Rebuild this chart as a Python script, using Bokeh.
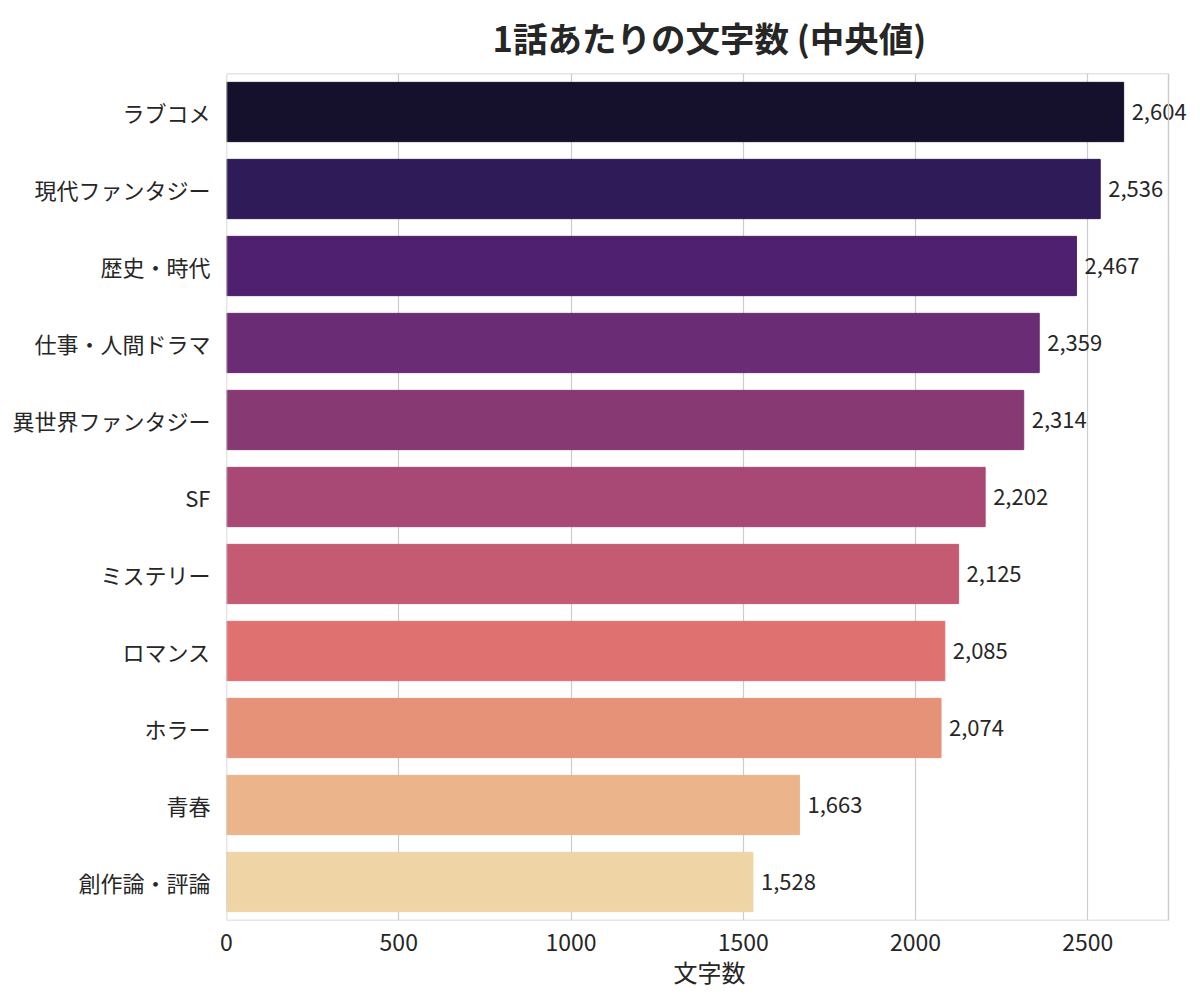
from bokeh.plotting import figure
from bokeh.models import ColumnDataSource, LabelSet, FactorRange, Range1d, FixedTicker, BoxAnnotation
from bokeh.core.properties import value
from bokeh.embed import file_html
from bokeh.resources import INLINE

categories = ["ラブコメ", "現代ファンタジー", "歴史・時代", "仕事・人間ドラマ", "異世界ファンタジー",
              "SF", "ミステリー", "ロマンス", "ホラー", "青春", "創作論・評論"]
values = [2604, 2536, 2467, 2359, 2314, 2202, 2125, 2085, 2074, 1663, 1528]
colors = ["#15112d", "#2f1b57", "#4f2070", "#6a2c74", "#873973", "#a74875",
          "#c45b73", "#df7170", "#e69278", "#ecb48b", "#efd4a6"]
labels = [f"{v:,}" for v in values]
x_ticks = [0, 500, 1000, 1500, 2000, 2500]

FONT = "Noto Sans CJK JP"

X_MAX = max(values) * 1.05          # visible data limit (plot box right edge)
BOX_PX = 942                          # visible plot box width in px
FRAME_PX = 966                        # frame extends to the figure edge so labels are not clipped

src = ColumnDataSource(dict(cat=categories, val=values, color=colors, label=labels))

p = figure(width=1192, height=991, output_backend="svg", toolbar_location=None,
           y_range=FactorRange(factors=list(reversed(categories)), range_padding=0),
           x_range=Range1d(0, X_MAX * FRAME_PX / BOX_PX),
           min_border_left=226, min_border_right=0, min_border_top=73, min_border_bottom=66)
p.hbar(y="cat", right="val", left=0, height=0.77, color="color", source=src)

# visible plot box
box = BoxAnnotation(left=0, right=X_MAX, fill_color=None, fill_alpha=0,
                    line_color="#cccccc", line_width=1.5, line_alpha=1.0, level="overlay")
p.add_layout(box)

lbl = LabelSet(x="val", y="cat", text="label", source=src, x_offset=8, y_offset=0,
               text_baseline="middle", text_align="left", text_font_size="22px",
               text_color="#262626", text_font=value(FONT))
p.add_layout(lbl)

p.title.text = "1話あたりの文字数 (中央値)"
p.title.text_font = FONT
p.title.text_font_size = "34.5px"
p.title.text_font_style = "bold"
p.title.text_color = "#262626"
p.title.align = "center"
p.title.offset = -12
p.title.vertical_align = "top"
p.title.standoff = 20

p.xaxis.ticker = FixedTicker(ticks=x_ticks)
p.xaxis.axis_label = "文字数"
p.xaxis.axis_label_text_font = FONT
p.xaxis.axis_label_text_font_size = "24px"
p.xaxis.axis_label_text_font_style = "normal"
p.xaxis.axis_label_text_color = "#262626"
p.xaxis.axis_label_standoff = 0
for ax in (p.xaxis, p.yaxis):
    ax.major_label_text_font = FONT
    ax.major_label_text_color = "#262626"
    ax.axis_line_color = None
    ax.major_tick_line_color = None
    ax.minor_tick_line_color = None
p.xaxis.major_label_text_font_size = "23px"
p.yaxis.major_label_text_font_size = "22px"
p.xaxis.major_label_standoff = 7
p.yaxis.major_label_standoff = 10

p.xgrid.grid_line_color = "#cccccc"
p.xgrid.grid_line_width = 1.2
p.ygrid.grid_line_color = None
p.outline_line_color = None
p.background_fill_color = "white"
p.border_fill_color = "white"

open("out.html", "w").write(file_html(p, INLINE))
